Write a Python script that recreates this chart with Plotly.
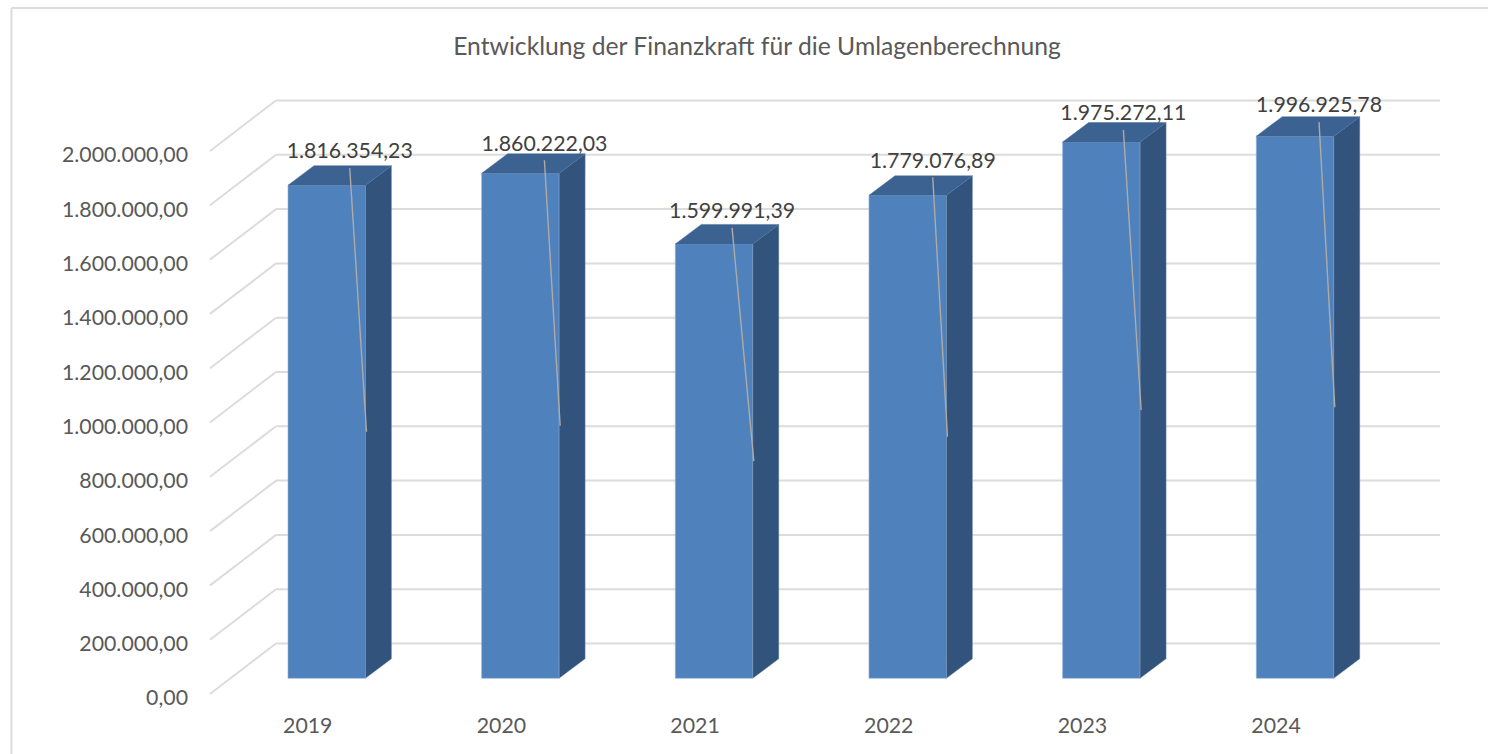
import plotly.graph_objects as go

# ---- data ----
years = ["2019", "2020", "2021", "2022", "2023", "2024"]
values = [1816354.23, 1860222.03, 1599991.39, 1779076.89, 1975272.11, 1996925.78]
y_ticks = [0, 200000, 400000, 600000, 800000, 1000000, 1200000, 1400000, 1600000, 1800000, 2000000]
title_text = "Entwicklung der Finanzkraft für die Umlagenberechnung"

# ---- layout geometry (page pixels) ----
W, H = 1488, 754
PX_PER_UNIT = 54.3 / 200000
Y0_PX = 694.0
def units(px):
    return px / PX_PER_UNIT

BAR_LEFT0, BAR_STEP, BAR_W = 288.0, 193.66, 77.5
BAR_LIFT = units(15.7)
SIDE_DX, SIDE_DY = 26.0, units(19.5)
WALL_X0, WALL_X1, WALL_END, WALL_DY = 210.0, 276.0, 1440.0, units(50.5)
TICK_SHIFT = 19.0
label_dx = [23, 24, 18, 25, 22, 24]
label_px_above = [32, 28, 31, 33, 27, 29]
LEADER_GAP = 15

FONT = "Lato"
FRONT, SIDE, TOP = "#4f81bd", "#31537c", "#3b6291"
GRID = "#dcdcdc"

centers = [BAR_LEFT0 + BAR_W / 2 + i * BAR_STEP for i in range(len(years))]

fig = go.Figure()

# front faces
fig.add_bar(x=centers, y=values, base=[BAR_LIFT] * len(values), width=[BAR_W] * len(values),
            marker=dict(color=FRONT, line=dict(color="#8fb0d8", width=0.6)),
            hoverinfo="skip", showlegend=False)

# side and top faces
for c, v in zip(centers, values):
    l, r = c - BAR_W / 2, c + BAR_W / 2
    b, t = BAR_LIFT, BAR_LIFT + v
    fig.add_scatter(x=[r, r + SIDE_DX, r + SIDE_DX, r, r], y=[b, b + SIDE_DY, t + SIDE_DY, t, b],
                    mode="lines", fill="toself", fillcolor=SIDE,
                    line=dict(color="#7f9cc0", width=0.4), hoverinfo="skip", showlegend=False)
    fig.add_scatter(x=[l, r, r + SIDE_DX, l + SIDE_DX, l], y=[t, t, t + SIDE_DY, t + SIDE_DY, t],
                    mode="lines", fill="toself", fillcolor=TOP,
                    line=dict(color=TOP, width=0.4), hoverinfo="skip", showlegend=False)

# leader lines and data labels
for c, v, dx, up in zip(centers, values, label_dx, label_px_above):
    r = c + BAR_W / 2
    top = BAR_LIFT + v
    fig.add_scatter(x=[c + dx, r + 1], y=[top + units(up - LEADER_GAP), BAR_LIFT + v / 2],
                    mode="lines", line=dict(color="#b0aaa5", width=1.4),
                    hoverinfo="skip", showlegend=False)
    txt = f"{v:,.2f}".replace(",", "X").replace(".", ",").replace("X", ".")
    fig.add_scatter(x=[c + dx], y=[top + units(up)], mode="text", text=[txt],
                    textposition="middle center",
                    textfont=dict(family=FONT, size=21.3, color="#404040"),
                    hoverinfo="skip", showlegend=False)

# wall / floor gridlines
shapes = []
for t in y_ticks:
    shapes.append(dict(type="line", xref="x", yref="y", layer="below", x0=WALL_X0, y0=t, x1=WALL_X1, y1=t + WALL_DY,
                       line=dict(color=GRID, width=2)))
    shapes.append(dict(type="line", xref="x", yref="y", layer="below", x0=WALL_X1, y0=t + WALL_DY, x1=WALL_END, y1=t + WALL_DY,
                       line=dict(color=GRID, width=2)))
# chart frame (runs off the right and bottom of the page)
FRAME_X, FRAME_Y = 11.5 / W, 1 - 8 / H
shapes.append(dict(type="line", xref="paper", yref="paper", x0=FRAME_X, y0=0, x1=FRAME_X, y1=FRAME_Y,
                   line=dict(color=GRID, width=2)))
shapes.append(dict(type="line", xref="paper", yref="paper", x0=FRAME_X, y0=FRAME_Y, x1=1, y1=FRAME_Y,
                   line=dict(color=GRID, width=2)))

fig.update_layout(
    width=W, height=H, margin=dict(l=0, r=0, t=0, b=0),
    paper_bgcolor="white", plot_bgcolor="white",
    separators=",.", showlegend=False, shapes=shapes,
    title=dict(text=title_text, x=757 / W, xanchor="center", y=1 - 46 / H, yanchor="middle",
               font=dict(family=FONT, size=24.7, color="#595959")),
    xaxis=dict(range=[0, W], domain=[0, 1], tickmode="array",
               tickvals=[c - TICK_SHIFT for c in centers], ticktext=years,
               showgrid=False, zeroline=False, showline=False, ticks="",
               anchor="free", position=(H - Y0_PX) / H, ticklabelstandoff=17,
               tickfont=dict(family=FONT, size=21.3, color="#595959")),
    yaxis=dict(range=[units(Y0_PX - H), units(Y0_PX)], domain=[0, 1], tickmode="array", tickvals=y_ticks,
               tickformat=",.2f", showgrid=False, zeroline=False, showline=False, ticks="",
               anchor="free", position=WALL_X0 / W, ticklabelstandoff=22, ticklabelshift=4,
               tickfont=dict(family=FONT, size=21.3, color="#595959")),
)

fig.write_html("out.html", config={"displayModeBar": False},
               post_script="document.body.style.margin='0';document.documentElement.style.overflow='hidden';")
